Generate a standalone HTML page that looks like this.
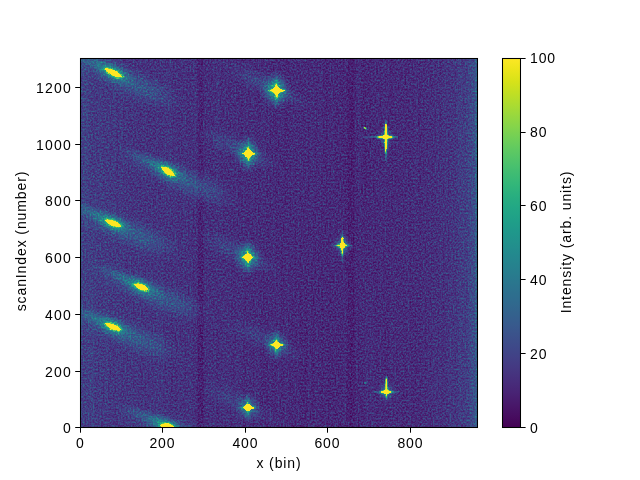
<!DOCTYPE html>
<html><head><meta charset="utf-8"><title>plot</title>
<style>
html,body{margin:0;padding:0;background:#fff;}
body{width:640px;height:480px;position:relative;overflow:hidden;font-family:"Liberation Sans",sans-serif;color:#000;}
svg{position:absolute;left:0;top:0;}
.t{position:absolute;will-change:transform;font-size:14px;line-height:16px;white-space:nowrap;letter-spacing:0.9px;}
</style></head><body>
<svg width="640" height="480" viewBox="0 0 640 480" >
<defs>
<linearGradient id="bg"><stop offset="0" stop-color="#333300"/><stop offset="0.04" stop-color="#2d2d00"/><stop offset="0.12" stop-color="#282800"/><stop offset="0.3" stop-color="#242400"/><stop offset="0.45" stop-color="#202000"/><stop offset="0.62" stop-color="#1e1e00"/><stop offset="0.72" stop-color="#1f1f00"/><stop offset="0.86" stop-color="#212100"/><stop offset="0.93" stop-color="#262600"/><stop offset="0.975" stop-color="#303000"/><stop offset="0.995" stop-color="#3c3c00"/><stop offset="1" stop-color="#666600"/></linearGradient><radialGradient id="glow"><stop offset="0" stop-color="#ff0" stop-opacity="0.75"/><stop offset="0.2" stop-color="#ff0" stop-opacity="0.6"/><stop offset="0.4" stop-color="#ff0" stop-opacity="0.38"/><stop offset="0.6" stop-color="#ff0" stop-opacity="0.18"/><stop offset="0.8" stop-color="#ff0" stop-opacity="0.06"/><stop offset="1" stop-color="#ff0" stop-opacity="0"/></radialGradient><radialGradient id="soft"><stop offset="0" stop-color="#ff0" stop-opacity="1"/><stop offset="0.3" stop-color="#ff0" stop-opacity="0.75"/><stop offset="0.55" stop-color="#ff0" stop-opacity="0.4"/><stop offset="0.8" stop-color="#ff0" stop-opacity="0.12"/><stop offset="1" stop-color="#ff0" stop-opacity="0"/></radialGradient><radialGradient id="rim"><stop offset="0" stop-color="#ff0" stop-opacity="1"/><stop offset="0.6" stop-color="#ff0" stop-opacity="1"/><stop offset="0.75" stop-color="#ff0" stop-opacity="0.6"/><stop offset="0.9" stop-color="#ff0" stop-opacity="0.2"/><stop offset="1" stop-color="#ff0" stop-opacity="0"/></radialGradient><linearGradient id="st"><stop offset="0" stop-color="#000" stop-opacity="0"/><stop offset="0.27" stop-color="#000"/><stop offset="0.73" stop-color="#000"/><stop offset="1" stop-color="#000" stop-opacity="0"/></linearGradient>
<clipPath id="axclip"><rect x="80.5" y="58.5" width="397" height="369"/></clipPath>
<filter id="vir" x="0" y="0" width="100%" height="100%" color-interpolation-filters="sRGB">
<feTurbulence type="fractalNoise" baseFrequency="0.6 0.55" numOctaves="2" seed="11"/>
<feColorMatrix type="matrix" values="1 0 0 0 0  1 0 0 0 0  0 0 0 0 0  0 0 0 0 1"/>
<feComponentTransfer result="n0"><feFuncR type="gamma" exponent="2"/><feFuncG type="gamma" exponent="2"/></feComponentTransfer>
<feTurbulence type="fractalNoise" baseFrequency="0.42 0.004" numOctaves="1" seed="5"/>
<feColorMatrix type="matrix" values="1 0 0 0 0  1 0 0 0 0  0 0 0 0 0  0 0 0 0 1" result="n1"/>
<feComposite in="n0" in2="n1" operator="arithmetic" k1="0" k2="1" k3="0.14" k4="-0.07" result="n"/>
<feComposite in="SourceGraphic" in2="n" operator="arithmetic" k1="0.600" k2="0.842" k3="0.320" k4="-0.084"/>
<feColorMatrix type="matrix" values="1 0 2 0 0  1 0 2 0 0  1 0 2 0 0  0 0 0 0 1"/>
<feComponentTransfer>
<feFuncR type="table" tableValues="0.267 0.274 0.279 0.282 0.283 0.283 0.280 0.276 0.271 0.264 0.256 0.247 0.237 0.228 0.218 0.209 0.199 0.191 0.182 0.174 0.167 0.159 0.152 0.145 0.138 0.131 0.125 0.121 0.119 0.121 0.128 0.140 0.158 0.181 0.208 0.239 0.274 0.312 0.352 0.395 0.440 0.487 0.536 0.586 0.637 0.689 0.741 0.794 0.846 0.896 0.946 0.993"/>
<feFuncG type="table" tableValues="0.005 0.031 0.062 0.090 0.116 0.141 0.166 0.190 0.214 0.238 0.261 0.283 0.305 0.327 0.347 0.368 0.388 0.407 0.426 0.445 0.464 0.482 0.501 0.519 0.537 0.556 0.574 0.593 0.611 0.629 0.648 0.666 0.684 0.701 0.719 0.736 0.752 0.768 0.783 0.797 0.811 0.824 0.836 0.847 0.857 0.865 0.873 0.881 0.887 0.894 0.900 0.906"/>
<feFuncB type="table" tableValues="0.329 0.359 0.387 0.412 0.436 0.458 0.476 0.493 0.507 0.519 0.528 0.536 0.542 0.547 0.550 0.553 0.555 0.556 0.557 0.558 0.558 0.558 0.558 0.557 0.555 0.552 0.549 0.545 0.539 0.532 0.523 0.513 0.502 0.488 0.473 0.456 0.437 0.416 0.393 0.368 0.341 0.312 0.282 0.250 0.217 0.183 0.150 0.120 0.100 0.096 0.113 0.144"/>
</feComponentTransfer>
</filter>
<linearGradient id="cb" x1="0" x2="0" y1="1" y2="0">
<stop offset="0.0000" stop-color="#440154"/><stop offset="0.0312" stop-color="#470d60"/><stop offset="0.0625" stop-color="#48186a"/><stop offset="0.0938" stop-color="#482374"/><stop offset="0.1250" stop-color="#472d7b"/><stop offset="0.1562" stop-color="#453781"/><stop offset="0.1875" stop-color="#424086"/><stop offset="0.2188" stop-color="#3e4989"/><stop offset="0.2500" stop-color="#3b528b"/><stop offset="0.2812" stop-color="#375b8d"/><stop offset="0.3125" stop-color="#33638d"/><stop offset="0.3438" stop-color="#2f6b8e"/><stop offset="0.3750" stop-color="#2c728e"/><stop offset="0.4062" stop-color="#297a8e"/><stop offset="0.4375" stop-color="#26828e"/><stop offset="0.4688" stop-color="#23898e"/><stop offset="0.5000" stop-color="#21918c"/><stop offset="0.5312" stop-color="#1f988b"/><stop offset="0.5625" stop-color="#1fa088"/><stop offset="0.5938" stop-color="#22a785"/><stop offset="0.6250" stop-color="#28ae80"/><stop offset="0.6562" stop-color="#32b67a"/><stop offset="0.6875" stop-color="#3fbc73"/><stop offset="0.7188" stop-color="#4ec36b"/><stop offset="0.7500" stop-color="#5ec962"/><stop offset="0.7812" stop-color="#70cf57"/><stop offset="0.8125" stop-color="#84d44b"/><stop offset="0.8438" stop-color="#98d83e"/><stop offset="0.8750" stop-color="#addc30"/><stop offset="0.9062" stop-color="#c2df23"/><stop offset="0.9375" stop-color="#d8e219"/><stop offset="0.9688" stop-color="#ece51b"/><stop offset="1.0000" stop-color="#fde725"/>
</linearGradient>
</defs>
<g clip-path="url(#axclip)"><g filter="url(#vir)">
<rect x="80" y="57.6" width="396.8" height="369.6" fill="url(#bg)"/>
<rect x="196.25" y="57.6" width="8.5" height="369.6" fill="url(#st)" opacity="0.34"/>
<rect x="345.75" y="57.6" width="10.5" height="369.6" fill="url(#st)" opacity="0.25"/>
<ellipse rx="70" ry="17" transform="translate(122.74 78.97) rotate(24)" fill="url(#soft)" opacity="0.12"/>
<ellipse rx="40" ry="8" transform="translate(97.16 63.58) rotate(24)" fill="url(#soft)" opacity="0.16"/>
<ellipse rx="26" ry="12" transform="translate(113.6 72.9) rotate(24)" fill="url(#soft)" opacity="0.24"/>
<ellipse rx="42" ry="19" transform="translate(144.66 89.73) rotate(24)" fill="url(#soft)" opacity="0.07"/>
<ellipse rx="19" ry="9.5" transform="translate(113.6 72.9) rotate(25.7)" fill="url(#glow)" opacity="0.4"/>
<ellipse rx="12.8" ry="4.7" transform="translate(113.6 72.9) rotate(25.7)" fill="url(#rim)" opacity="0.5"/>
<path d="M-10 0 Q0 -5 10 0 Q0 5 -10 0Z" transform="translate(113.6 72.9) rotate(25.7)" fill="#fff"/>
<ellipse rx="70" ry="17" transform="translate(177.21 177.21) rotate(23)" fill="url(#soft)" opacity="0.12"/>
<ellipse rx="40" ry="8" transform="translate(151.43 162.27) rotate(23)" fill="url(#soft)" opacity="0.16"/>
<ellipse rx="26" ry="12" transform="translate(168 171.3) rotate(23)" fill="url(#soft)" opacity="0.24"/>
<ellipse rx="42" ry="19" transform="translate(199.3 187.58) rotate(23)" fill="url(#soft)" opacity="0.07"/>
<ellipse rx="16.9" ry="9.75" transform="translate(168 171.3) rotate(33)" fill="url(#glow)" opacity="0.4"/>
<ellipse rx="10.7" ry="4.95" transform="translate(168 171.3) rotate(33)" fill="url(#rim)" opacity="0.5"/>
<path d="M-7.9 0 Q0 -5.5 7.9 0 Q0 5.5 -7.9 0Z" transform="translate(168 171.3) rotate(33)" fill="#fff"/>
<ellipse rx="70" ry="17" transform="translate(122.27 229) rotate(22)" fill="url(#soft)" opacity="0.12"/>
<ellipse rx="40" ry="8" transform="translate(96.31 214.51) rotate(22)" fill="url(#soft)" opacity="0.16"/>
<ellipse rx="26" ry="12" transform="translate(113 223.25) rotate(22)" fill="url(#soft)" opacity="0.24"/>
<ellipse rx="42" ry="19" transform="translate(144.52 238.99) rotate(22)" fill="url(#soft)" opacity="0.07"/>
<ellipse rx="17.75" ry="9.5" transform="translate(113 223.25) rotate(21)" fill="url(#glow)" opacity="0.4"/>
<ellipse rx="11.55" ry="4.7" transform="translate(113 223.25) rotate(21)" fill="url(#rim)" opacity="0.5"/>
<path d="M-8.75 0 Q0 -5 8.75 0 Q0 5 -8.75 0Z" transform="translate(113 223.25) rotate(21)" fill="#fff"/>
<ellipse rx="70" ry="17" transform="translate(150.52 292.75) rotate(22)" fill="url(#soft)" opacity="0.12"/>
<ellipse rx="40" ry="8" transform="translate(124.56 278.26) rotate(22)" fill="url(#soft)" opacity="0.16"/>
<ellipse rx="26" ry="12" transform="translate(141.25 287) rotate(22)" fill="url(#soft)" opacity="0.24"/>
<ellipse rx="42" ry="19" transform="translate(172.77 302.74) rotate(22)" fill="url(#soft)" opacity="0.07"/>
<ellipse rx="16.5" ry="9.5" transform="translate(141.25 287) rotate(22)" fill="url(#glow)" opacity="0.4"/>
<ellipse rx="10.3" ry="4.7" transform="translate(141.25 287) rotate(22)" fill="url(#rim)" opacity="0.5"/>
<path d="M-7.5 0 Q0 -5 7.5 0 Q0 5 -7.5 0Z" transform="translate(141.25 287) rotate(22)" fill="#fff"/>
<ellipse rx="70" ry="17" transform="translate(122.27 332.55) rotate(22)" fill="url(#soft)" opacity="0.12"/>
<ellipse rx="40" ry="8" transform="translate(96.31 318.06) rotate(22)" fill="url(#soft)" opacity="0.16"/>
<ellipse rx="26" ry="12" transform="translate(113 326.8) rotate(22)" fill="url(#soft)" opacity="0.24"/>
<ellipse rx="42" ry="19" transform="translate(144.52 342.54) rotate(22)" fill="url(#soft)" opacity="0.07"/>
<ellipse rx="17.5" ry="9.5" transform="translate(113 326.8) rotate(22)" fill="url(#glow)" opacity="0.4"/>
<ellipse rx="11.3" ry="4.7" transform="translate(113 326.8) rotate(22)" fill="url(#rim)" opacity="0.5"/>
<path d="M-8.5 0 Q0 -5 8.5 0 Q0 5 -8.5 0Z" transform="translate(113 326.8) rotate(22)" fill="#fff"/>
<ellipse rx="70" ry="17" transform="translate(176.9 432.02) rotate(20)" fill="url(#soft)" opacity="0.12"/>
<ellipse rx="40" ry="8" transform="translate(150.59 418.44) rotate(20)" fill="url(#soft)" opacity="0.16"/>
<ellipse rx="26" ry="12" transform="translate(167.5 426.6) rotate(20)" fill="url(#soft)" opacity="0.24"/>
<ellipse rx="42" ry="19" transform="translate(199.45 441.23) rotate(20)" fill="url(#soft)" opacity="0.07"/>
<ellipse rx="16.5" ry="10" transform="translate(167.5 426.6) rotate(12)" fill="url(#glow)" opacity="0.4"/>
<ellipse rx="10.3" ry="5.2" transform="translate(167.5 426.6) rotate(12)" fill="url(#rim)" opacity="0.5"/>
<path d="M-7.5 0 Q0 -6 7.5 0 Q0 6 -7.5 0Z" transform="translate(167.5 426.6) rotate(12)" fill="#fff"/>
<ellipse rx="44" ry="13" transform="translate(262.5 83.4) rotate(25)" fill="url(#soft)" opacity="0.11"/>
<ellipse rx="30" ry="10" transform="translate(286.5 95.4) rotate(25)" fill="url(#soft)" opacity="0.06"/>
<ellipse rx="16" ry="20" transform="translate(276 90.4)" fill="url(#glow)" opacity="0.8"/>
<ellipse rx="3.5" ry="21" transform="translate(276.5 90.4)" fill="url(#soft)" opacity="0.4"/>
<ellipse rx="15" ry="2.4" transform="translate(277.5 90.4)" fill="url(#soft)" opacity="0.35"/>
<ellipse rx="10.6" ry="2.4" transform="translate(276.5 90.4)" fill="url(#rim)" opacity="0.4"/>
<ellipse rx="2.4" ry="9.3" transform="translate(276.5 90.4)" fill="url(#rim)" opacity="0.4"/>
<path d="M269.8 90.4 Q275.24 89.14 276.1 83.8 Q277.76 89.14 285.1 90.7 Q277.76 91.66 276.9 97.2 Q275.24 91.66 269.8 90.4 Z" fill="#fff"/>
<ellipse rx="3" ry="3" transform="translate(276.5 90.4)" fill="#fff"/>
<ellipse rx="44" ry="13" transform="translate(234.3 146.6) rotate(25)" fill="url(#soft)" opacity="0.1"/>
<ellipse rx="30" ry="10" transform="translate(258.3 158.6) rotate(25)" fill="url(#soft)" opacity="0.05"/>
<ellipse rx="15.3" ry="19.1" transform="translate(247.8 153.6)" fill="url(#glow)" opacity="0.72"/>
<ellipse rx="3.5" ry="20.1" transform="translate(248.3 153.6)" fill="url(#soft)" opacity="0.36"/>
<ellipse rx="15" ry="2.4" transform="translate(249.3 153.6)" fill="url(#soft)" opacity="0.32"/>
<ellipse rx="8.8" ry="2.4" transform="translate(248.3 153.6)" fill="url(#rim)" opacity="0.4"/>
<ellipse rx="2.4" ry="8.7" transform="translate(248.3 153.6)" fill="url(#rim)" opacity="0.4"/>
<path d="M242.5 153.6 Q246.7 152 247.9 147.6 Q249.9 152 255.1 153.9 Q249.9 155.2 248.7 159.8 Q246.7 155.2 242.5 153.6 Z" fill="#fff"/>
<ellipse rx="3.8" ry="3.8" transform="translate(248.3 153.6)" fill="#fff"/>
<ellipse rx="44" ry="13" transform="translate(234 250.3) rotate(25)" fill="url(#soft)" opacity="0.1"/>
<ellipse rx="30" ry="10" transform="translate(258 262.3) rotate(25)" fill="url(#soft)" opacity="0.05"/>
<ellipse rx="15.3" ry="19.1" transform="translate(247.5 257.3)" fill="url(#glow)" opacity="0.72"/>
<ellipse rx="3.5" ry="20.1" transform="translate(248 257.3)" fill="url(#soft)" opacity="0.36"/>
<ellipse rx="15" ry="2.4" transform="translate(249 257.3)" fill="url(#soft)" opacity="0.32"/>
<ellipse rx="7.8" ry="2.4" transform="translate(248 257.3)" fill="url(#rim)" opacity="0.4"/>
<ellipse rx="2.4" ry="7.9" transform="translate(248 257.3)" fill="url(#rim)" opacity="0.4"/>
<path d="M242.2 257.3 Q246.49 255.79 247.6 251.9 Q249.51 255.79 253.2 257.6 Q249.51 258.81 248.4 262.5 Q246.49 258.81 242.2 257.3 Z" fill="#fff"/>
<ellipse rx="3.6" ry="3.6" transform="translate(248 257.3)" fill="#fff"/>
<ellipse rx="44" ry="13" transform="translate(262.5 337.8) rotate(25)" fill="url(#soft)" opacity="0.08"/>
<ellipse rx="30" ry="10" transform="translate(286.5 349.8) rotate(25)" fill="url(#soft)" opacity="0.04"/>
<ellipse rx="13.9" ry="17.3" transform="translate(276 344.8)" fill="url(#glow)" opacity="0.56"/>
<ellipse rx="3.5" ry="18.3" transform="translate(276.5 344.8)" fill="url(#soft)" opacity="0.28"/>
<ellipse rx="15" ry="2.4" transform="translate(277.5 344.8)" fill="url(#soft)" opacity="0.24"/>
<ellipse rx="9.8" ry="2.4" transform="translate(276.5 344.8)" fill="url(#rim)" opacity="0.4"/>
<ellipse rx="2.4" ry="7.4" transform="translate(276.5 344.8)" fill="url(#rim)" opacity="0.4"/>
<path d="M270.2 344.8 Q275.24 343.54 276.1 339.9 Q277.76 343.54 284.3 345.1 Q277.76 346.06 276.9 349.3 Q275.24 346.06 270.2 344.8 Z" fill="#fff"/>
<ellipse rx="3" ry="3" transform="translate(276.5 344.8)" fill="#fff"/>
<ellipse rx="44" ry="13" transform="translate(234 400.6) rotate(25)" fill="url(#soft)" opacity="0.07"/>
<ellipse rx="30" ry="10" transform="translate(258 412.6) rotate(25)" fill="url(#soft)" opacity="0.04"/>
<ellipse rx="13.2" ry="16.4" transform="translate(247.5 407.6)" fill="url(#glow)" opacity="0.48"/>
<ellipse rx="3.5" ry="17.4" transform="translate(248 407.6)" fill="url(#soft)" opacity="0.24"/>
<ellipse rx="15" ry="2.4" transform="translate(249 407.6)" fill="url(#soft)" opacity="0.21"/>
<ellipse rx="8.4" ry="2.4" transform="translate(248 407.6)" fill="url(#rim)" opacity="0.4"/>
<ellipse rx="2.4" ry="6.4" transform="translate(248 407.6)" fill="url(#rim)" opacity="0.4"/>
<path d="M242.5 407.6 Q246.61 406.21 247.6 403.7 Q249.39 406.21 254.4 407.9 Q249.39 408.99 248.4 411.2 Q246.61 408.99 242.5 407.6 Z" fill="#fff"/>
<ellipse rx="3.3" ry="3.3" transform="translate(248 407.6)" fill="#fff"/>
<ellipse rx="10" ry="12" transform="translate(385.9 137)" fill="url(#glow)" opacity="0.35"/>
<rect x="362.9" y="136.2" width="35" height="1.6" fill="#ff0" opacity="0.2"/>
<rect x="385.1" y="120" width="1.6" height="41" fill="#ff0" opacity="0.2"/>
<ellipse rx="10.85" ry="2.55" transform="translate(385.15 137)" fill="url(#rim)" opacity="0.5"/>
<ellipse rx="2.6" ry="18.85" transform="translate(385.9 138.85)" fill="url(#rim)" opacity="0.5"/>
<path d="M376.3 137 L385.9 136.05 L394 137 L385.9 137.95 Z" fill="#fff"/>
<path d="M385.02 125 L385.9 124 L386.78 125 L387 137 L385.9 153.7 L384.8 137 Z" fill="#fff"/>
<ellipse rx="3.6" ry="1.7" transform="translate(385.9 137)" fill="#fff"/>
<ellipse rx="10" ry="12" transform="translate(342.3 245.5)" fill="url(#glow)" opacity="0.55"/>
<rect x="332.3" y="244.7" width="20" height="1.6" fill="#ff0" opacity="0.2"/>
<rect x="341.5" y="230.5" width="1.6" height="31" fill="#ff0" opacity="0.2"/>
<ellipse rx="7.45" ry="2.7" transform="translate(342.25 245.5)" fill="url(#rim)" opacity="0.5"/>
<ellipse rx="2.5" ry="12.6" transform="translate(342.3 245.8)" fill="url(#rim)" opacity="0.5"/>
<path d="M336.8 245.5 L342.3 244.4 L347.7 245.5 L342.3 246.6 Z" fill="#fff"/>
<path d="M341.5 238.2 L342.3 237.2 L343.1 238.2 L343.3 245.5 L342.3 254.4 L341.3 245.5 Z" fill="#fff"/>
<ellipse rx="2.5" ry="2.9" transform="translate(342.3 245.5)" fill="#fff"/>
<ellipse rx="10" ry="12" transform="translate(386.4 392)" fill="url(#glow)" opacity="0.4"/>
<rect x="373.4" y="391.2" width="25" height="1.6" fill="#ff0" opacity="0.2"/>
<rect x="385.6" y="376" width="1.6" height="24" fill="#ff0" opacity="0.2"/>
<ellipse rx="8" ry="2.8" transform="translate(386 392)" fill="url(#rim)" opacity="0.5"/>
<ellipse rx="2.2" ry="12.9" transform="translate(386.4 387.4)" fill="url(#rim)" opacity="0.5"/>
<path d="M380 392 L386.4 390.8 L392 392 L386.4 393.2 Z" fill="#fff"/>
<path d="M385.84 379.5 L386.4 378.5 L386.96 379.5 L387.1 392 L386.4 396.3 L385.7 392 Z" fill="#fff"/>
<ellipse rx="3" ry="1.7" transform="translate(386.4 392)" fill="#fff"/>
<ellipse rx="1.7" ry="1.1" transform="translate(365.2 128.1) rotate(30)" fill="#ff0" opacity="0.8"/>
<ellipse rx="1.2" ry="1.1" transform="translate(365.2 382.9)" fill="#ff0" opacity="0.4"/>
</g></g>
<rect x="80.5" y="58.5" width="397" height="369" fill="none" stroke="#000" stroke-width="1.05"/>
<line x1="80.5" x2="80.5" y1="428" y2="432.7" stroke="#000" stroke-width="1.05"/>
<line x1="162.5" x2="162.5" y1="428" y2="432.7" stroke="#000" stroke-width="1.05"/>
<line x1="245.5" x2="245.5" y1="428" y2="432.7" stroke="#000" stroke-width="1.05"/>
<line x1="327.5" x2="327.5" y1="428" y2="432.7" stroke="#000" stroke-width="1.05"/>
<line x1="410.5" x2="410.5" y1="428" y2="432.7" stroke="#000" stroke-width="1.05"/>
<line x1="75.2" x2="80" y1="427.5" y2="427.5" stroke="#000" stroke-width="1.05"/>
<line x1="75.2" x2="80" y1="371.5" y2="371.5" stroke="#000" stroke-width="1.05"/>
<line x1="75.2" x2="80" y1="314.5" y2="314.5" stroke="#000" stroke-width="1.05"/>
<line x1="75.2" x2="80" y1="257.5" y2="257.5" stroke="#000" stroke-width="1.05"/>
<line x1="75.2" x2="80" y1="200.5" y2="200.5" stroke="#000" stroke-width="1.05"/>
<line x1="75.2" x2="80" y1="144.5" y2="144.5" stroke="#000" stroke-width="1.05"/>
<line x1="75.2" x2="80" y1="87.5" y2="87.5" stroke="#000" stroke-width="1.05"/>
<rect x="502" y="58" width="18.5" height="369.5" fill="url(#cb)"/>
<rect x="502.5" y="58.5" width="18" height="369" fill="none" stroke="#000" stroke-width="1.05"/>
<line x1="521" x2="525.6" y1="427.5" y2="427.5" stroke="#000" stroke-width="1.05"/>
<line x1="521" x2="525.6" y1="353.5" y2="353.5" stroke="#000" stroke-width="1.05"/>
<line x1="521" x2="525.6" y1="279.5" y2="279.5" stroke="#000" stroke-width="1.05"/>
<line x1="521" x2="525.6" y1="205.5" y2="205.5" stroke="#000" stroke-width="1.05"/>
<line x1="521" x2="525.6" y1="132.5" y2="132.5" stroke="#000" stroke-width="1.05"/>
<line x1="521" x2="525.6" y1="58.5" y2="58.5" stroke="#000" stroke-width="1.05"/>
</svg>
<div class="t" style="left:80px;top:435px;width:100px;margin-left:-50px;text-align:center;text-indent:0.9px">0</div>
<div class="t" style="left:162.43px;top:435px;width:100px;margin-left:-50px;text-align:center;text-indent:0.9px">200</div>
<div class="t" style="left:244.87px;top:435px;width:100px;margin-left:-50px;text-align:center;text-indent:0.9px">400</div>
<div class="t" style="left:327.3px;top:435px;width:100px;margin-left:-50px;text-align:center;text-indent:0.9px">600</div>
<div class="t" style="left:409.74px;top:435px;width:100px;margin-left:-50px;text-align:center;text-indent:0.9px">800</div>
<div class="t" style="right:568px;top:420px;text-align:right;letter-spacing:1.25px">0</div>
<div class="t" style="right:568px;top:364px;text-align:right;letter-spacing:1.25px">200</div>
<div class="t" style="right:568px;top:307px;text-align:right;letter-spacing:1.25px">400</div>
<div class="t" style="right:568px;top:250px;text-align:right;letter-spacing:1.25px">600</div>
<div class="t" style="right:568px;top:193px;text-align:right;letter-spacing:1.25px">800</div>
<div class="t" style="right:568px;top:137px;text-align:right;letter-spacing:1.25px">1000</div>
<div class="t" style="right:568px;top:80px;text-align:right;letter-spacing:1.25px">1200</div>
<div class="t" style="left:530px;top:420px">0</div>
<div class="t" style="left:530px;top:346px">20</div>
<div class="t" style="left:530px;top:272px">40</div>
<div class="t" style="left:530px;top:198px">60</div>
<div class="t" style="left:530px;top:124px">80</div>
<div class="t" style="left:530px;top:50px">100</div>
<div class="t" style="left:278.6px;top:454.6px;width:200px;margin-left:-100px;text-align:center">x (bin)</div>
<div class="t" style="left:20.5px;top:241.2px;width:300px;margin-left:-150px;margin-top:-8px;text-align:center;transform:rotate(-90deg)">scanIndex (number)</div>
<div class="t" style="left:565.7px;top:242.2px;width:300px;margin-left:-150px;margin-top:-8px;text-align:center;transform:rotate(-90deg)">Intensity (arb. units)</div>
</body></html>
